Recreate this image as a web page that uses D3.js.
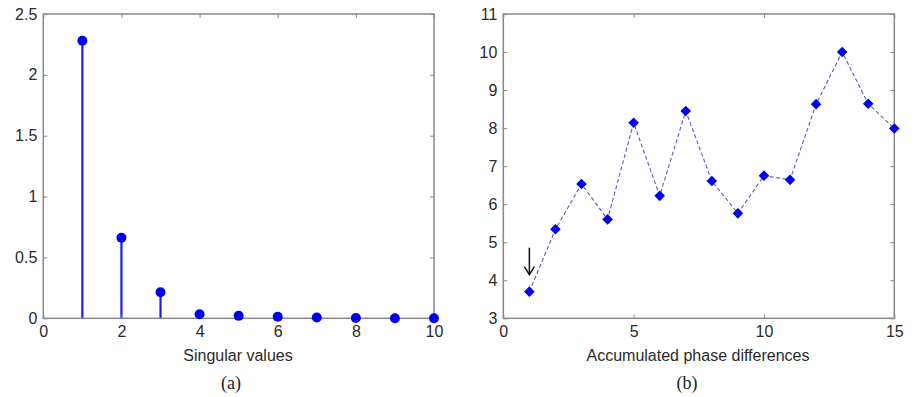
<!DOCTYPE html>
<html>
<head>
<meta charset="utf-8">
<script src="https://cdn.jsdelivr.net/npm/d3@7"></script>
<style>
  html, body { margin: 0; padding: 0; background: #fff; }
  svg { display: block; }
  .tick text { font-family: "Liberation Sans", Arial, sans-serif; font-size: 16px; fill: #2a2a2a; }
</style>
</head>
<body>
<svg id="fig" width="921" height="397"></svg>
<script>
// Panel (a): singular values (stem plot)
const svIndex = [1, 2, 3, 4, 5, 6, 7, 8, 9, 10];
const svValues = [2.28, 0.662, 0.214, 0.033, 0.02, 0.013, 0.006, 0.002, 0.001, 0.0];
const svXTicks = [0, 2, 4, 6, 8, 10];
const svYTicks = [0, 0.5, 1, 1.5, 2, 2.5];

// Panel (b): accumulated phase differences
const apIndex = [1, 2, 3, 4, 5, 6, 7, 8, 9, 10, 11, 12, 13, 14, 15];
const apValues = [3.7, 5.34, 6.53, 5.6, 8.14, 6.22, 8.45, 6.61, 5.76, 6.75, 6.64, 8.63, 10.0, 8.64, 7.99];
const apXTicks = [0, 5, 10, 15];
const apYTicks = [3, 4, 5, 6, 7, 8, 9, 10, 11];
const arrowAt = 1;

const svg = d3.select("#fig");
const axisColor = "#888";
const tickLen = 4;

// Draws a MATLAB-style box with inward ticks on all four sides
function frame(g, x, y, xTicks, yTicks, xFmt, yFmt) {
  const [x0, x1] = x.range();
  const [y0, y1] = y.range(); // y0 bottom, y1 top
  const bottom = g.append("g").attr("transform", `translate(0,${y0})`)
    .call(d3.axisBottom(x).tickValues(xTicks).tickFormat(xFmt).tickSize(-tickLen).tickPadding(7));
  const top = g.append("g").attr("transform", `translate(0,${y1})`)
    .call(d3.axisTop(x).tickValues(xTicks).tickFormat("").tickSize(-tickLen));
  const left = g.append("g").attr("transform", `translate(${x0},0)`)
    .call(d3.axisLeft(y).tickValues(yTicks).tickFormat(yFmt).tickSize(-tickLen).tickPadding(6));
  const right = g.append("g").attr("transform", `translate(${x1},0)`)
    .call(d3.axisRight(y).tickValues(yTicks).tickFormat("").tickSize(-tickLen));
  [bottom, top, left, right].forEach(a => {
    a.select(".domain").remove();
    a.selectAll(".tick line").attr("stroke", axisColor).attr("stroke-width", 1);
  });
  g.append("rect")
    .attr("x", x0).attr("y", y1).attr("width", x1 - x0).attr("height", y0 - y1)
    .attr("fill", "none").attr("stroke", axisColor).attr("stroke-width", 1.5);
}

function label(text, cx, cy, serif, size) {
  svg.append("text")
    .attr("x", cx).attr("y", cy)
    .attr("text-anchor", "middle")
    .attr("font-family", serif ? "'Liberation Serif', 'Times New Roman', serif" : "'Liberation Sans', Arial, sans-serif")
    .attr("font-size", size)
    .attr("fill", serif ? "#222" : "#2a2a2a")
    .text(text);
}

// ---- Panel (a) ----
{
  const x = d3.scaleLinear().domain([0, 10]).range([43.3, 434]);
  const y = d3.scaleLinear().domain([0, 2.5]).range([318.3, 14]);
  const g = svg.append("g");
  const fmt = d => d3.format("")(d);
  g.selectAll("line.stem").data(svIndex).join("line")
    .attr("class", "stem")
    .attr("x1", d => x(d)).attr("x2", d => x(d))
    .attr("y1", y(0)).attr("y2", (d, i) => y(svValues[i]))
    .attr("stroke", "#1a1aff").attr("stroke-width", 2.2);
  frame(g, x, y, svXTicks, svYTicks, fmt, fmt);
  g.selectAll("circle.head").data(svIndex).join("circle")
    .attr("class", "head")
    .attr("cx", d => x(d)).attr("cy", (d, i) => y(svValues[i]))
    .attr("r", 5).attr("fill", "#0000f0");
  label("Singular values", 238, 361, false, 16);
  label("(a)", 231, 389, true, 18);
}

// ---- Panel (b) ----
{
  const x = d3.scaleLinear().domain([0, 15]).range([503.3, 894.3]);
  const y = d3.scaleLinear().domain([3, 11]).range([318.3, 14]);
  const g = svg.append("g");
  frame(g, x, y, apXTicks, apYTicks, d3.format("d"), d3.format("d"));
  const line = d3.line().x((d, i) => x(apIndex[i])).y(d => y(d));
  g.append("path").datum(apValues)
    .attr("d", line)
    .attr("fill", "none").attr("stroke", "#5a5ad0")
    .attr("stroke-width", 1.1).attr("stroke-dasharray", "4,2.5");
  const diamond = d3.symbol().type(d3.symbolDiamond2).size(72);
  g.selectAll("path.pt").data(apValues).join("path")
    .attr("class", "pt")
    .attr("transform", (d, i) => `translate(${x(apIndex[i])},${y(d)})`)
    .attr("d", diamond).attr("fill", "#0000f0");
  // downward arrow over the first point
  const ax = x(arrowAt);
  const tipY = y(apValues[0]) - 17;
  g.append("line").attr("x1", ax).attr("x2", ax).attr("y1", tipY - 27).attr("y2", tipY)
    .attr("stroke", "#111").attr("stroke-width", 1.5);
  g.append("path")
    .attr("d", `M${ax - 5},${tipY - 8}L${ax},${tipY}L${ax + 5},${tipY - 8}`)
    .attr("fill", "none").attr("stroke", "#111").attr("stroke-width", 1.5);
  label("Accumulated phase differences", 698, 361, false, 16);
  label("(b)", 687, 389, true, 18);
}
</script>
</body>
</html>
